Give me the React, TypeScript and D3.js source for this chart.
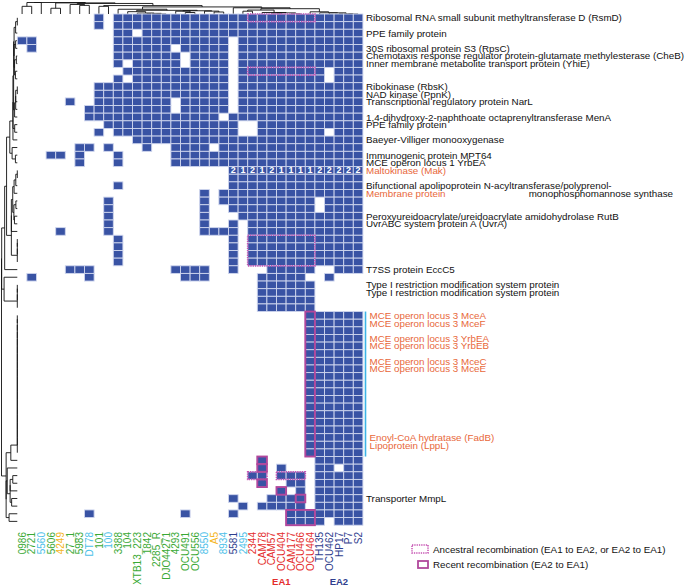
import React from 'react';
import * as d3 from 'd3';

const W = 686;
const H = 586;

const colLabels = ['0986', '2721', '5560', '5606', '4249', '27_1', '5983', 'DT78', '101', '100', '3388', '104', 'XTB13_223', '1842', '2285_R', 'DJO44271', '4293', 'OCU491', 'OCU556', '8550', 'A5', '8934', '5581', '2495', '2344', 'CAM78', 'CAM57', 'OCU404', 'CAM177', 'OCU466', 'OCU464', 'TH135', 'OCU462', 'HP17', 'P7', 'S2'];
const colGroup = ['g', 'g', 'c', 'g', 'y', 'g', 'g', 'c', 'g', 'c', 'g', 'g', 'g', 'g', 'g', 'g', 'g', 'g', 'g', 'c', 'y', 'c', 'n', 'c', 'r', 'r', 'r', 'r', 'r', 'r', 'r', 'n', 'n', 'n', 'n', 'n'];
const groupColor: Record<string, string> = { g: '#3aa935', c: '#4dbfe9', y: '#f4b51e', n: '#2f3e8e', r: '#e42d2c' };

// filled columns per gene row (ranges of column indices)
const presence = [
  '8,10-35',
  '8,10-35',
  '10-11,13-35',
  '0-1,10-21,23-35',
  '1,10-15,17-21,23-35',
  '10-16,18-21,23-35',
  '10,12-16,18-21,23-35',
  '11-21,23-31,33-35',
  '10,12-21,23-31,33-35',
  '8-21,23-35',
  '8-21,23-35',
  '5,8-15,17-21,23-35',
  '7-15,17-21,23-35',
  '7-20,22-35',
  '9-22,25-35',
  '8,10-22,25-31,33-35',
  '12-35',
  '6-7,9,13,16-19,21-35',
  '3-4,6,10,16-35',
  '6,10,16-35',
  '22-35',
  '22-35',
  '10,22-35',
  '19,21-35',
  '9,19,21-30,32-35',
  '9,19,22-30,32-35',
  '9,19,23-35',
  '9,19,22,24-35',
  '4,9,19-22,24-35',
  '10,22,24-35',
  '10,22,24-35',
  '10,22,24-35',
  '10,22,24-35',
  '5-7,16-19,22,26-30,33-35',
  '1,7,17-19,25-29,32',
  '25-30',
  '25-30',
  '25-30',
  '25-30',
  '30-35',
  '30-35',
  '30-35',
  '30-35',
  '30-35',
  '30-35',
  '30-35',
  '30-35',
  '30-35',
  '30-35',
  '30-35',
  '30-35',
  '30-35',
  '30-35',
  '30-35',
  '30-35',
  '30-35',
  '30-35',
  '30-35',
  '25,31-35',
  '25,27,31-32,34-35',
  '24-25,27-29,31-35',
  '25,28-29,31-35',
  '27,29,31-35',
  '22,26-29,31-35',
  '23,25-29,31-35',
  '7,17,22,28-35',
  '28-31,33-35',
];

const numberRow = 20;
const numberCols = [22, 23, 24, 25, 26, 27, 28, 29, 30, 31, 32, 33, 34, 35];
const numberVals = [2, 1, 2, 1, 2, 1, 1, 1, 1, 2, 2, 2, 2, 2];

const labelRows = [0, 2, 4, 5, 6, 9, 10, 11, 13, 14, 16, 18, 19, 20, 22, 23, 26, 27, 33, 35, 36, 39, 40, 42, 43, 45, 46, 55, 56, 63];
const labelTexts = [
  'Ribosomal RNA small subunit methyltransferase D (RsmD)',
  'PPE family protein',
  '30S ribosomal protein S3 (RpsC)',
  'Chemotaxis response regulator protein-glutamate methylesterase (CheB)',
  'Inner membrane metabolite transport protein (YhiE)',
  'Ribokinase (RbsK)',
  'NAD kinase (PpnK)',
  'Transcriptional regulatory protein NarL',
  '1,4-dihydroxy-2-naphthoate octaprenyltransferase MenA',
  'PPE family protein',
  'Baeyer-Villiger monooxygenase',
  'Immunogenic protein MPT64',
  'MCE operon locus 1 YrbEA',
  'Maltokinase (Mak)',
  'Bifunctional apolipoprotein N-acyltransferase/polyprenol-',
  'Membrane protein',
  'Peroxyureidoacrylate/ureidoacrylate amidohydrolase RutB',
  'UvrABC system protein A (UvrA)',
  'T7SS protein EccC5',
  'Type I restriction modification system protein',
  'Type I restriction modification system protein',
  'MCE operon locus 3 MceA',
  'MCE operon locus 3 MceF',
  'MCE operon locus 3 YrbEA',
  'MCE operon locus 3 YrbEB',
  'MCE operon locus 3 MceC',
  'MCE operon locus 3 MceE',
  'Enoyl-CoA hydratase (FadB)',
  'Lipoprotein (LppL)',
  'Transporter MmpL',
];
const labelHighlight = [false, false, false, false, false, false, false, false, false, false, false, false, false, true, false, true, false, false, false, false, false, true, true, true, true, true, true, true, true, false];
const continuationText = 'monophosphomannose synthase';
const continuationRow = 23;

// [rowStart, rowEnd, colStart, colEnd]
const ancestralBoxes = [[0, 0, 24, 30], [7, 7, 24, 30], [29, 32, 24, 30], [60, 60, 24, 25], [60, 60, 27, 29]];
const recentBoxes = [[39, 57, 30, 30], [58, 58, 25, 25], [59, 59, 25, 25], [61, 61, 25, 25], [62, 62, 27, 27], [63, 63, 29, 29], [65, 66, 28, 30]];
const mceBarRows = [39, 57];

const groupLabels = ['EA1', 'EA2'];
const groupSpans = [[24, 30], [31, 35]];
const groupLabelColors = ['#e42d2c', '#2f3e8e'];

const legendTexts = ['Ancestral recombination (EA1 to EA2, or EA2 to EA1)', 'Recent recombination (EA2 to EA1)'];

const FONT = 'Liberation Sans, Arial, Helvetica, sans-serif';
const BLUE = '#3953a4';
const PINK_SOLID = '#b1479c';
const PINK_DOT = '#c653b2';

function parseRow(s: string): Set<number> {
  const out = new Set<number>();
  s.split(',').forEach((p) => {
    if (!p) return;
    const parts = p.split('-').map(Number);
    const a = parts[0];
    const b = parts.length > 1 ? parts[1] : a;
    for (let i = a; i <= b; i++) out.add(i);
  });
  return out;
}

type TNode = { h: number; pos: number; children?: TNode[] };

function jaccard(a: Set<number>, b: Set<number>) {
  let inter = 0;
  a.forEach((x) => { if (b.has(x)) inter++; });
  const uni = a.size + b.size - inter;
  return uni === 0 ? 0 : 1 - inter / uni;
}

function orderedCluster(sets: Set<number>[]): TNode {
  const D = sets.map((a) => sets.map((b) => jaccard(a, b)));
  let cl = sets.map((_, i) => ({ m: [i], node: { h: 0, pos: i } as TNode }));
  while (cl.length > 1) {
    let bi = 0;
    let bd = Infinity;
    for (let i = 0; i < cl.length - 1; i++) {
      const A = cl[i].m;
      const B = cl[i + 1].m;
      let s = 0;
      for (const a of A) for (const b of B) s += D[a][b];
      const d = s / (A.length * B.length);
      if (d < bd - 1e-9) { bd = d; bi = i; }
    }
    const A = cl[bi];
    const B = cl[bi + 1];
    const h = Math.max(bd, A.node.h, B.node.h);
    const node: TNode = { h, pos: (A.node.pos + B.node.pos) / 2, children: [A.node, B.node] };
    cl.splice(bi, 2, { m: [...A.m, ...B.m], node });
  }
  return cl[0].node;
}

function segments(root: TNode) {
  const segs: { a: number; b: number; h1: number; h2: number }[] = [];
  const walk = (n: TNode) => {
    if (!n.children) return;
    const [c1, c2] = n.children;
    segs.push({ a: c1.pos, b: c2.pos, h1: n.h, h2: n.h });
    for (const c of n.children) {
      segs.push({ a: c.pos, b: c.pos, h1: n.h, h2: c.h });
      walk(c);
    }
  };
  walk(root);
  return segs;
}

export default function App() {
  const nCols = colLabels.length;
  const nRows = presence.length;
  const gridLeft = 17.3, gridRight = 362.9, gridTop = 14, gridBottom = 525.2;

  const x = d3.scaleBand<number>().domain(d3.range(nCols)).range([gridLeft, gridRight]);
  const y = d3.scaleBand<number>().domain(d3.range(nRows)).range([gridTop, gridBottom]);
  const cw = x.bandwidth();
  const ch = y.bandwidth();
  const xc = d3.scaleLinear().domain([-0.5, nCols - 0.5]).range([gridLeft, gridRight]);
  const yc = d3.scaleLinear().domain([-0.5, nRows - 0.5]).range([gridTop, gridBottom]);

  const rowSets = presence.map(parseRow);
  const colSets = d3.range(nCols).map((c) => new Set(d3.range(nRows).filter((r) => rowSets[r].has(c))));

  const colTree = orderedCluster(colSets);
  const rowTree = orderedCluster(rowSets);
  const topH = d3.scaleLinear().domain([0, colTree.h]).range([gridTop, 2.5]);
  const leftH = d3.scaleLinear().domain([0, rowTree.h]).range([gridLeft, 1.5]);

  const cells: { r: number; c: number }[] = [];
  rowSets.forEach((s, r) => s.forEach((c) => cells.push({ r, c })));

  const boxRect = (b: number[]) => ({
    x: x(b[2])!,
    y: y(b[0])!,
    w: x(b[3])! + cw - x(b[2])!,
    h: y(b[1])! + ch - y(b[0])!,
  });

  return (
    <svg width={W} height={H} style={{ position: 'absolute', left: 0, top: 0, background: '#fff' }} fontFamily={FONT}>
      {/* dendrograms */}
      <g stroke="#111" strokeWidth={0.9} fill="none">
        {segments(colTree).map((s, i) => (
          <line key={'t' + i} x1={xc(s.a)} x2={xc(s.b)} y1={topH(s.h1)} y2={topH(s.h2)} />
        ))}
        {segments(rowTree).map((s, i) => (
          <line key={'l' + i} y1={yc(s.a)} y2={yc(s.b)} x1={leftH(s.h1)} x2={leftH(s.h2)} />
        ))}
      </g>

      {/* cells */}
      <g>
        {cells.map((d, i) => (
          <rect key={i} x={x(d.c)} y={y(d.r)} width={cw} height={ch} fill={BLUE} stroke="#cfd6ee" strokeWidth={0.9} />
        ))}
      </g>

      {/* numbers */}
      <g fill="#fff" fontSize={9} fontWeight="bold" textAnchor="middle">
        {numberCols.map((c, i) => (
          <text key={i} x={x(c)! + cw / 2} y={y(numberRow)! + ch / 2} dominantBaseline="central">{numberVals[i]}</text>
        ))}
      </g>

      {/* recombination boxes */}
      <g fill="none">
        {ancestralBoxes.map((b, i) => {
          const r = boxRect(b);
          return <rect key={'a' + i} x={r.x} y={r.y} width={r.w} height={r.h} stroke={PINK_DOT} strokeWidth={1.7} strokeDasharray="1.3 1" />;
        })}
        {recentBoxes.map((b, i) => {
          const r = boxRect(b);
          return <rect key={'s' + i} x={r.x} y={r.y} width={r.w} height={r.h} stroke={PINK_SOLID} strokeWidth={1.9} />;
        })}
      </g>

      {/* MCE bar */}
      <line x1={365.5} x2={365.5} y1={y(mceBarRows[0])!} y2={y(mceBarRows[1])! + ch} stroke="#3cb4e6" strokeWidth={1.6} />

      {/* row labels */}
      <g fontSize={9.8}>
        {labelRows.map((r, i) => (
          <text key={i} x={r >= mceBarRows[0] && r <= mceBarRows[1] ? 369.5 : 366} y={y(r)! + ch / 2} dominantBaseline="central" fill={labelHighlight[i] ? '#e8673a' : '#111'}>
            {labelTexts[i]}
          </text>
        ))}
        <text x={673} y={y(continuationRow)! + ch / 2} dominantBaseline="central" textAnchor="end" fill="#111">{continuationText}</text>
      </g>

      {/* column labels */}
      <g fontSize={10}>
        {colLabels.map((l, i) => (
          <text key={i} transform={`translate(${x(i)! + cw / 2 + 3.6},532) rotate(-90)`} textAnchor="end" fill={groupColor[colGroup[i]]}>{l}</text>
        ))}
      </g>

      {/* group labels */}
      <g fontSize={9.5} fontWeight="bold" textAnchor="middle">
        {groupLabels.map((g, i) => (
          <text key={g} x={(x(groupSpans[i][0])! + x(groupSpans[i][1])! + cw) / 2} y={585} fill={groupLabelColors[i]}>{g}</text>
        ))}
      </g>

      {/* legend */}
      <g fontSize={9.8}>
        <rect x={412} y={545} width={16} height={8} fill="none" stroke={PINK_DOT} strokeWidth={1.5} strokeDasharray="1.3 1" />
        <text x={433} y={549.5} dominantBaseline="central" fill="#111">{legendTexts[0]}</text>
        <rect x={418} y={561} width={10} height={7} fill="none" stroke={PINK_SOLID} strokeWidth={1.8} />
        <text x={433} y={564.5} dominantBaseline="central" fill="#111">{legendTexts[1]}</text>
      </g>
    </svg>
  );
}
